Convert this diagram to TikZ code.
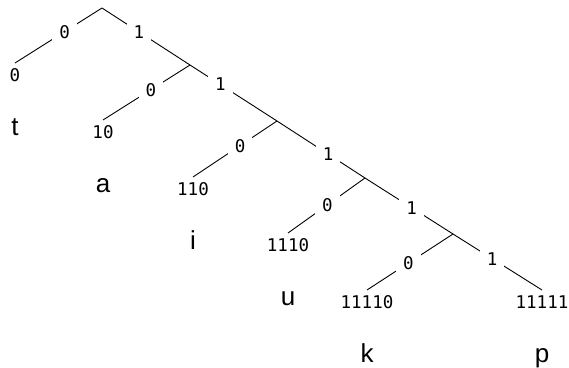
\documentclass[tikz,border=0pt]{standalone}
\usepackage{fontspec}
\setmainfont{Liberation Sans}
\newfontfamily\codefont{DejaVu Sans Mono}
\usetikzlibrary{positioning}
\tikzset{
  branch/.style={draw=black, line width=0.9pt},
  bit/.style={fill=white, inner xsep=7pt, inner ysep=3pt, font=\codefont\fontsize{17.5}{20}\selectfont},
  code/.style={anchor=north, inner sep=5.5pt, font=\codefont\fontsize{17.5}{20}\selectfont},
  letter/.style={inner sep=0pt, font=\fontsize{26}{30}\selectfont},
}

\begin{document}
\begin{tikzpicture}[x=1pt, y=-1pt]
  \useasboundingbox (0,0) rectangle (569,367);

  \coordinate (root) at (102,8);
  \coordinate (n1) at (190,65);
  \coordinate (n2) at (277,121);
  \coordinate (n3) at (365,178);
  \coordinate (n4) at (453,234);

  \node[code] (c0) at (15,63) {0};
  \node[code] (c10) at (103,120) {10};
  \node[code] (c110) at (193,177) {110};
  \node[code] (c1110) at (288,233) {1110};
  \node[code] (c11110) at (367,290) {11110};
  \node[code] (c11111) at (542,290) {11111};

  \node[letter, below=54pt of c0.base, anchor=base] (t) {t};
  \node[letter, below=54pt of c10.base, anchor=base] (a) {a};
  \node[letter, below=54pt of c110.base, anchor=base] (i) {i};
  \node[letter, below=54pt of c1110.base, anchor=base] (u) {u};
  \node[letter, below=54pt of c11110.base, anchor=base] (k) {k};
  \node[letter, below=54pt of c11111.base, anchor=base] (p) {p};

  \draw[branch] (root) -- node[bit, pos=0.43] (b0) {0} (c0.north);
  \draw[branch] (root) -- node[bit, pos=0.42] (b1) {1} (n1);
  \draw[branch] (n1) -- node[bit, pos=0.45] (b10) {0} (c10.north);
  \draw[branch] (n1) -- node[bit, pos=0.35] (b11) {1} (n2);
  \draw[branch] (n2) -- node[bit, pos=0.44] (b110) {0} (c110.north);
  \draw[branch] (n2) -- node[bit, pos=0.58] (b111) {1} (n3);
  \draw[branch] (n3) -- node[bit, pos=0.49] (b1110) {0} (c1110.north);
  \draw[branch] (n3) -- node[bit, pos=0.53] (b1111) {1} (n4);
  \draw[branch] (n4) -- node[bit, pos=0.52] (b11110) {0} (c11110.north);
  \draw[branch] (n4) -- node[bit, pos=0.44] (b11111) {1} (c11111.north);
\end{tikzpicture}
\end{document}
